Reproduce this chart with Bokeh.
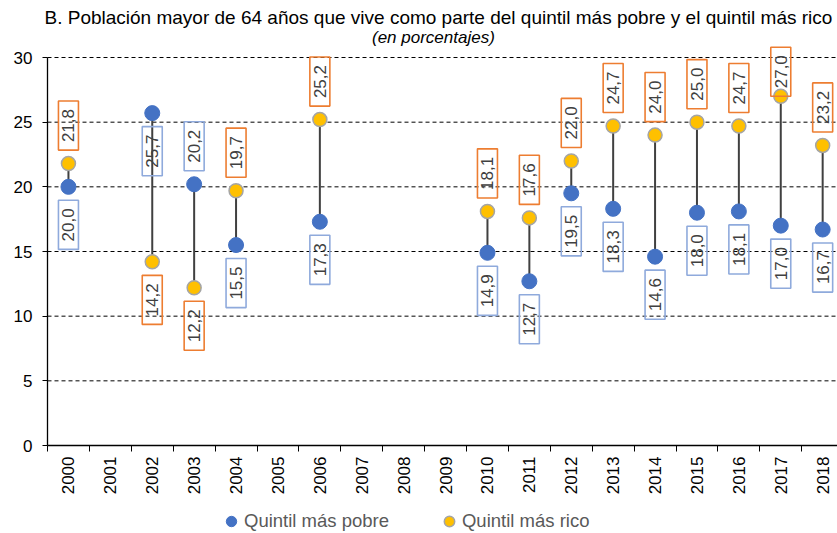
import math
from bokeh.plotting import figure
from bokeh.models import Range1d, FixedTicker, ColumnDataSource, Legend, LegendItem, Label
from bokeh.core.properties import value
from bokeh.embed import file_html
from bokeh.resources import INLINE

# ---- data ----
all_years = [str(y) for y in range(2000, 2019)]
years = ["2000", "2002", "2003", "2004", "2006", "2010", "2011", "2012",
         "2013", "2014", "2015", "2016", "2017", "2018"]
poorest = [20.0, 25.7, 20.2, 15.5, 17.3, 14.9, 12.7, 19.5, 18.3, 14.6, 18.0, 18.1, 17.0, 16.7]
richest = [21.8, 14.2, 12.2, 19.7, 25.2, 18.1, 17.6, 22.0, 24.7, 24.0, 25.0, 24.7, 27.0, 23.2]
y_ticks = [0, 5, 10, 15, 20, 25, 30]

title_1 = "B. Población mayor de 64 años que vive como parte del quintil más pobre y el quintil más rico"
title_2 = "(en porcentajes)"
name_poor = "Quintil más pobre"
name_rich = "Quintil más rico"

# label placement (+1 above the point, -1 below)
rich_side = [1, -1, -1, 1, 1, 1, 1, 1, 1, 1, 1, 1, 1, 1]
poor_side = [-1, -1, 1, -1, -1, -1, -1, -1, -1, -1, -1, -1, -1, -1]

FONT = "Liberation Sans"
LABEL_OFFSET = 2.94
LABEL_MAX = 28.9
X_END = 18.854

x = [all_years.index(y) + 0.5 for y in years]

def fmt(v):
    return f"{v:.1f}".replace(".", ",")

src = ColumnDataSource(dict(
    x=x, poor=poorest, rich=richest,
    poor_lab=[fmt(v) for v in poorest],
    rich_lab=[fmt(v) for v in richest],
    poor_ly=[min(v + s * LABEL_OFFSET, LABEL_MAX) for v, s in zip(poorest, poor_side)],
    rich_ly=[min(v + s * LABEL_OFFSET, LABEL_MAX) for v, s in zip(richest, rich_side)],
))

grid_vals = [t for t in y_ticks if t > 0]
grid_src = ColumnDataSource(dict(y=grid_vals, x0=[0] * len(grid_vals), x1=[X_END] * len(grid_vals)))

W, H = 837, 533
p = figure(width=W, height=H, output_backend="svg", toolbar_location=None,
           x_range=Range1d(-1.1217, X_END), y_range=Range1d(-6.804, 34.408),
           min_border_left=0, min_border_right=0, min_border_top=0, min_border_bottom=0)
p.outline_line_color = None
p.background_fill_color = "white"
p.border_fill_color = "white"
p.xgrid.grid_line_color = None
p.ygrid.grid_line_color = None

# gridlines (dashed)
p.segment(x0="x0", y0="y", x1="x1", y1="y", source=grid_src,
          line_color="black", line_dash="4 3", line_width=1)

# axes
xa = p.xaxis[0]
xa.fixed_location = 0
xa.bounds = (0, X_END)
xa.ticker = FixedTicker(ticks=[i + 0.5 for i in range(len(all_years))],
                        minor_ticks=list(range(len(all_years) + 1)))
xa.major_label_overrides = {i + 0.5: y for i, y in enumerate(all_years)}
xa.major_label_orientation = math.pi / 2
xa.major_tick_line_color = None
xa.major_tick_out = 6
xa.major_tick_in = 0
xa.minor_tick_line_color = "black"
xa.minor_tick_out = 6
xa.minor_tick_in = 0
xa.major_label_standoff = 5
xa.axis_line_color = "black"
xa.axis_line_width = 1.3
xa.major_label_text_font = FONT
xa.major_label_text_font_size = "17px"
xa.major_label_text_color = "black"

ya = p.yaxis[0]
ya.fixed_location = 0
ya.ticker = FixedTicker(ticks=y_ticks, minor_ticks=[])
ya.bounds = (0, 30)
ya.major_tick_out = 5
ya.major_tick_in = 0
ya.major_tick_line_color = "black"
ya.minor_tick_line_color = None
ya.major_label_standoff = 10
ya.axis_line_color = "black"
ya.axis_line_width = 1.3
ya.major_label_text_font = FONT
ya.major_label_text_font_size = "17px"
ya.major_label_text_color = "black"

# stems
p.segment(x0="x", y0="poor", x1="x", y1="rich", source=src, line_color="#404040", line_width=2)

# points
r_poor = p.scatter("x", "poor", source=src, marker="circle", size=15,
                   fill_color="#4472C4", line_color="#4472C4", line_width=1)
r_rich = p.scatter("x", "rich", source=src, marker="circle", size=14,
                   fill_color="#FFC000", line_color="#A5A5A5", line_width=1.5)

# labels
common = dict(source=src, angle=math.pi / 2, text_align="center", text_baseline="middle",
              text_font=value(FONT), text_font_size="17px", text_color="#404040",
              background_fill_color=None, border_line_width=1.6, padding=(8, 4))
p.text(x="x", y="rich_ly", text="rich_lab", border_line_color="#ED7D31", **common)
p.text(x="x", y="poor_ly", text="poor_lab", border_line_color="#8FAADC", **common)

# title
p.add_layout(Label(x=9.33, y=33.13, text=title_1, text_align="center", text_baseline="middle",
                   text_font=FONT, text_font_size="19px", text_color="black"))
p.add_layout(Label(x=9.21, y=31.55, text=title_2, text_align="center", text_baseline="middle",
                   text_font=FONT, text_font_size="17px", text_font_style="italic",
                   text_color="black"))

# legend
legend = Legend(items=[LegendItem(label=name_poor, renderers=[r_poor]),
                       LegendItem(label=name_rich, renderers=[r_rich])],
                orientation="horizontal", location=(218, -2),
                glyph_width=26, glyph_height=28, label_height=28, label_standoff=0, spacing=47,
                padding=0, margin=0, border_line_color=None, background_fill_color=None,
                label_text_font=FONT, label_text_font_size="18.5px", label_text_color="#595959")
p.add_layout(legend, "center")

open("out.html", "w").write(file_html(p, INLINE))
